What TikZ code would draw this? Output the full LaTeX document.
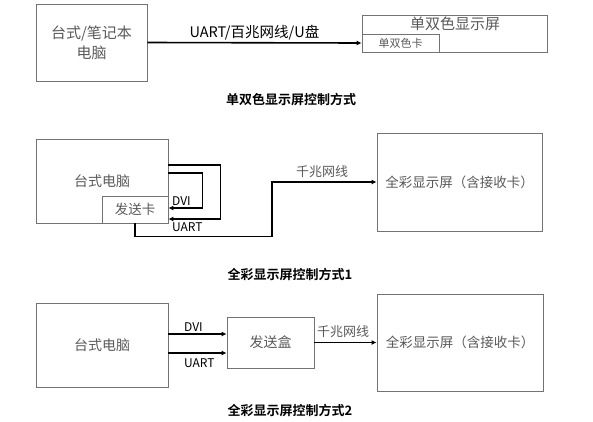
\documentclass[tikz,border=0pt]{standalone}
\usepackage{fontspec}
\newfontfamily\cjk{Noto Sans CJK SC}[BoldFont={Noto Sans CJK SC Bold}]
\usepackage{tikz}
\usetikzlibrary{positioning, arrows.meta}
\usetikzlibrary{backgrounds}

\begin{document}
\begin{tikzpicture}[x=1pt, y=-1pt,
        box/.style={draw=black!55, line width=0.8pt, rectangle, inner sep=0pt,
            text=black!65, align=center, font=\cjk\fontsize{14}{20}\selectfont},
        wire/.style={line width=1.6pt, black, -{Latex[length=5pt, width=5pt]}},
        lab/.style={inner sep=0pt, font=\cjk\fontsize{12}{14}\selectfont},
        graylab/.style={lab, text=black!65, font=\cjk\fontsize{13}{15}\selectfont},
        caption/.style={inner sep=0pt, font=\cjk\bfseries\fontsize{13}{15}\selectfont}]
        %\draw[step=20] (0,0) grid (593,421);
        \useasboundingbox (0,0) rectangle (593,421);

        % single and dual colour
        \node[box, minimum width=111pt, minimum height=77pt, font=\cjk\fontsize{15}{20}\selectfont] (pc1) at (91.5,42.5) {台式/笔记本\\电脑};
        \node[box, minimum width=185pt, minimum height=37pt] (disp1) at (454.5,33.5) {};
        \node[graylab, font=\cjk\fontsize{15}{17}\selectfont] (disp1t) at (455,24) {单双色显示屏};
        \node[box, minimum width=77pt, minimum height=18pt, font=\cjk\fontsize{11}{13}\selectfont] (card1) at (400.5,43) {单双色卡};
        \draw[wire] (pc1.east) -- (card1.west)
            node[midway, above=1.5pt, lab, font=\cjk\fontsize{14.5}{16}\selectfont] (link1) {UART/百兆网线/U盘};
        \node[caption] (cap1) at (291,100) {单双色显示屏控制方式};

        % full colour, card inside the computer
        \node[box, minimum width=132pt, minimum height=84pt] (pc2) at (102,181) {台式电脑};
        \node[box, minimum width=66pt, minimum height=27pt, font=\cjk\fontsize{13.5}{15}\selectfont] (send2) at (135,209.5) {发送卡};
        \node[box, minimum width=165pt, minimum height=98pt, font=\cjk\fontsize{13.5}{15}\selectfont] (disp2) at (459.5,182) {全彩显示屏（含接收卡）};
        \draw[wire] ([yshift=8pt]pc2.east) -- ++(34,0) |- ([yshift=1.5pt]send2.east);
        \draw[wire] ([yshift=16pt]pc2.east) -- ++(52,0) |- ([yshift=-9.5pt]send2.east);
        \node[lab, anchor=west] (dvi2) at (172,201) {DVI};
        \node[lab, anchor=west] (uart2) at (172,227) {UART};
        \coordinate (g2) at (272,182);
        \draw[wire] (send2.south) -- ++(0,13) -| (g2) -- (disp2.west);
        \node[graylab] (net2) at (322,172) {千兆网线};
        \node[caption] (cap2) at (290,275) {全彩显示屏控制方式1};

        % full colour, separate sending box
        \node[box, minimum width=132pt, minimum height=84pt] (pc3) at (102,345) {台式电脑};
        \node[box, minimum width=87pt, minimum height=51pt, font=\cjk\fontsize{14}{16}\selectfont] (box3) at (270.5,342.5) {发送盒};
        \node[box, minimum width=166pt, minimum height=97pt, font=\cjk\fontsize{13.5}{15}\selectfont] (disp3) at (460,342.5) {全彩显示屏（含接收卡）};
        \coordinate (dvi3s) at ([yshift=11pt]pc3.east);
        \coordinate (uart3s) at ([yshift=-8pt]pc3.east);
        \draw[wire] (dvi3s) -- (dvi3s -| box3.west);
        \draw[wire] (uart3s) -- (uart3s -| box3.west);
        \node[lab, anchor=west] (dvi3) at (184,327) {DVI};
        \node[lab, anchor=west] (uart3) at (184,363) {UART};
        \draw[wire] (box3.east) -- (disp3.west);
        \node[graylab] (net3) at (343,332) {千兆网线};
        \node[caption] (cap3) at (290,411) {全彩显示屏控制方式2};
\end{tikzpicture}
\end{document}
